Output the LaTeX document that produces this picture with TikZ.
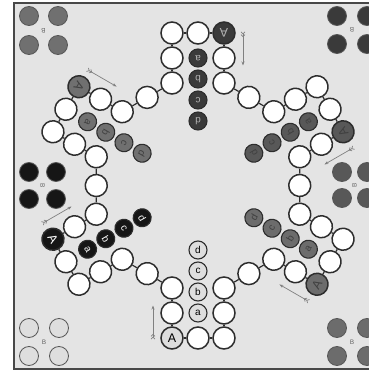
\documentclass[tikz,border=0pt]{standalone}
\usepackage{fontspec}
\setmainfont{Liberation Sans}
\usetikzlibrary{arrows.meta}
\definecolor{boardbg}{RGB}{228,228,228}
\definecolor{rimgrey}{RGB}{72,72,72}
\definecolor{ringgrey}{RGB}{45,45,45}
\definecolor{pclight}{RGB}{222,222,222}
\definecolor{pcmid}{RGB}{108,108,108}
\definecolor{pcslate}{RGB}{88,88,88}
\definecolor{pcdark}{RGB}{58,58,58}
\definecolor{pcgrey}{RGB}{112,112,112}
\definecolor{pcblack}{RGB}{22,22,22}

\begin{document}
\begin{tikzpicture}[x=1pt, y=1pt,
    track/.style={circle, draw=ringgrey, fill=white, line width=1.5pt, minimum size=22pt, inner sep=0pt, font=\fontsize{12.5}{13}\selectfont},
    homefld/.style={circle, draw=ringgrey, line width=1.1pt, minimum size=18pt, inner sep=0pt, font=\fontsize{10}{11}\selectfont},
    piece/.style={circle, draw=ringgrey!80, line width=0.8pt, minimum size=19pt, inner sep=0pt},
    yardtag/.style={font=\fontsize{6.5}{7}\selectfont, text=gray!80!black, inner sep=0pt},
    link/.style={draw=ringgrey, line width=1.2pt},
    runarrow/.style={draw=gray, line width=0.7pt, arrows={Straight Barb[reversed,length=2pt,width=4pt]Straight Barb[reversed,length=2pt,width=4pt]-Stealth[length=4pt,width=3pt]}}
  ]
  \useasboundingbox (0,0) rectangle (369,373);
  \clip (0,0) rectangle (369,373);
  \fill[white] (0,0) rectangle (369,373);
  \draw[rimgrey, fill=boardbg, line width=1.3pt] (14,4) rectangle (390,370);

  % six arms of the track, turned 60 degrees apart
  \foreach \k/\fc/\tc in {0/pclight/black, 1/pcmid/black!75, 2/pcslate/black!75, 3/pcdark/gray!60, 4/pcgrey/black!75, 5/pcblack/white}{
    \begin{scope}[shift={(198,187.5)}, rotate=60*\k, transform shape]
      \node[track] (t\k-1) at (-26,-102.5) {};
      \node[track] (t\k-2) at (-26,-127.5) {};
      \node[track, fill=\fc, text=\tc] (t\k-3) at (-26,-152.5) {A};
      \node[track] (t\k-4) at (0,-152.5) {};
      \node[track] (t\k-5) at (26,-152.5) {};
      \node[track] (t\k-6) at (26,-127.5) {};
      \node[track] (t\k-7) at (26,-102.5) {};
      \node[track] (t\k-8) at (50.9,-88.1) {};
      % home row
      \node[homefld, fill=\fc, text=\tc] (h\k-a) at (0,-127.5) {a};
      \node[homefld, fill=\fc, text=\tc] (h\k-b) at (0,-106.5) {b};
      \node[homefld, fill=\fc, text=\tc] (h\k-c) at (0,-85.5) {c};
      \node[homefld, fill=\fc, text=\tc] (h\k-d) at (0,-64.5) {d};
      \coordinate (r\k-tail) at (-45,-154);
      \coordinate (r\k-head) at (-45,-120);
    \end{scope}
  }

  % links between the fields
  \foreach \k in {0,...,5}{
    \pgfmathtruncatemacro{\nk}{mod(\k+1,6)}
    \foreach \i [count=\j from 2] in {1,...,7}{
      \draw[link] (t\k-\i) -- (t\k-\j);
    }
    \draw[link] (t\k-8) -- (t\nk-1);
    \draw[runarrow] (r\k-tail) -- (r\k-head);
  }

  % waiting yards in the corners
  \foreach \g/\xa/\xb/\ya/\yb/\fc/\rot in {tl/29/58/357/328/pcgrey/180, tr/337/367/357/329/pcdark/180, lm/29/56/201/174/pcblack/-90, rm/342/367/201/175/pcslate/90, bl/29/59/45/17/pclight/0, br/337/367/45/17/pcmid/0}{
    \node[piece, fill=\fc] (\g-1) at (\xa,\ya) {};
    \node[piece, fill=\fc] (\g-2) at (\xb,\ya) {};
    \node[piece, fill=\fc] (\g-3) at (\xa,\yb) {};
    \node[piece, fill=\fc] (\g-4) at (\xb,\yb) {};
    \node[yardtag, rotate=\rot] (\g-tag) at ({(\xa+\xb)/2},{(\ya+\yb)/2}) {B};
  }
\end{tikzpicture}
\end{document}
